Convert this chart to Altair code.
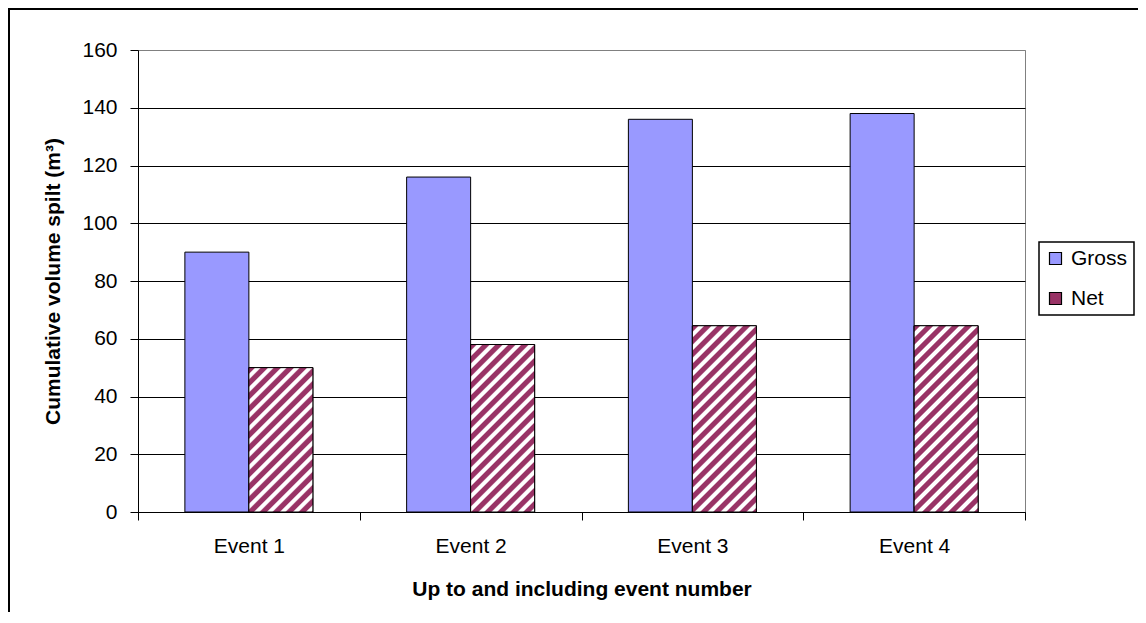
import altair as alt
import pandas as pd

# ---- data ----
events = ["Event 1", "Event 2", "Event 3", "Event 4"]
series = ["Gross", "Net"]
gross = [90, 116, 136, 138]
net = [50, 58, 64.5, 64.5]
y_ticks = [0, 20, 40, 60, 80, 100, 120, 140, 160]

rows = []
for e, g, n in zip(events, gross, net):
    rows.append({"event": e, "series": "Gross", "value": g})
    rows.append({"event": e, "series": "Net", "value": n})
df = pd.DataFrame(rows)

# ---- style ----
FONT = "Liberation Sans"
GROSS_C = "#9999FF"
NET_C = "#993366"
W, H = 887, 462
YMAX = 160
BAR_W = 64.0
STEP = W / 4
OFF_PAD = (STEP / BAR_W - 2) / 2

x_enc = alt.X("event:N", sort=events,
              scale=alt.Scale(paddingInner=0, paddingOuter=0),
              axis=alt.Axis(title="Up to and including event number", labelAngle=0,
                            tickBand="extent", grid=False, labelPadding=15,
                            titlePadding=22))
xo_enc = alt.XOffset("series:N", sort=series,
                     scale=alt.Scale(paddingInner=0, paddingOuter=OFF_PAD))
y_enc = alt.Y("value:Q", scale=alt.Scale(domain=[0, YMAX], nice=False),
              axis=alt.Axis(title="Cumulative volume spilt (m³)", values=y_ticks,
                            labelPadding=13, titlePadding=18,
                            gridColor={"condition": {"test": "datum.value === 160", "value": "#808080"},
                                       "value": "black"}))

base = alt.Chart(df)

bars = base.mark_bar(stroke="black", strokeWidth=1).encode(
    x=x_enc, xOffset=xo_enc, y=y_enc,
    color=alt.Color("series:N", sort=series,
                    scale=alt.Scale(domain=series, range=[GROSS_C, NET_C]),
                    legend=alt.Legend(title=None, orient="none", legendX=901, legendY=192)),
)


def stripe_gradient(w, h, period=13.0):
    s = w + h
    vx = s * w / (w * w + h * h)
    vy = s * h / (w * w + h * h)
    dt = period / s
    stops = []
    k = 0
    while k * dt < 1:
        b = k * dt
        for frac, col in [(0.0, NET_C), (0.42, NET_C), (0.54, "#FFFFFF"),
                          (0.86, "#FFFFFF"), (0.98, NET_C)]:
            off = b + frac * dt
            if off <= 1:
                stops.append({"offset": round(off, 5), "color": col})
        k += 1
    return {"gradient": "linear", "x1": 0, "y1": 0, "x2": vx, "y2": vy, "stops": stops}


overlays = []
for e, n in zip(events, net):
    h = n * H / YMAX
    overlays.append(
        base.transform_filter(
            (alt.datum.series == "Net") & (alt.datum.event == e)
        ).mark_bar(fill=stripe_gradient(BAR_W, h), stroke="black", strokeWidth=1).encode(
            x=alt.X("event:N", sort=events), xOffset=alt.XOffset("series:N", sort=series), y="value:Q"
        )
    )

frame = alt.Chart(alt.Data(values=[{"f": 1}])).mark_rect(
    fill=None, stroke="black", strokeWidth=2
).encode(x=alt.value(-129), x2=alt.value(1100), y=alt.value(-41), y2=alt.value(700))

chart = alt.layer(bars, *overlays, frame).properties(
    width=W, height=H,
    autosize=alt.AutoSizeParams(type="none"),
    padding={"left": 130, "top": 42, "right": 113, "bottom": 100},
    background="white",
).configure_view(
    stroke="#808080", strokeWidth=1, fill="white"
).configure_axis(
    labelFont=FONT, labelFontSize=21, labelColor="black",
    titleFont=FONT, titleFontSize=21, titleFontWeight="bold", titleColor="black",
    domainColor="black", domainWidth=1, tickColor="black", tickSize=8, tickWidth=1,
    gridColor="black", gridWidth=1,
).configure_legend(
    strokeColor="black", strokeWidth=1.5, fillColor="white", padding=6,
    rowPadding=18, symbolType="square", symbolSize=144, symbolStrokeColor="black",
    symbolStrokeWidth=1.2, symbolOpacity=1, labelFont=FONT, labelFontSize=21,
    labelColor="black", labelOffset=5, cornerRadius=0,
)

chart.save("out.html", embed_options={"renderer": "svg", "actions": False})
